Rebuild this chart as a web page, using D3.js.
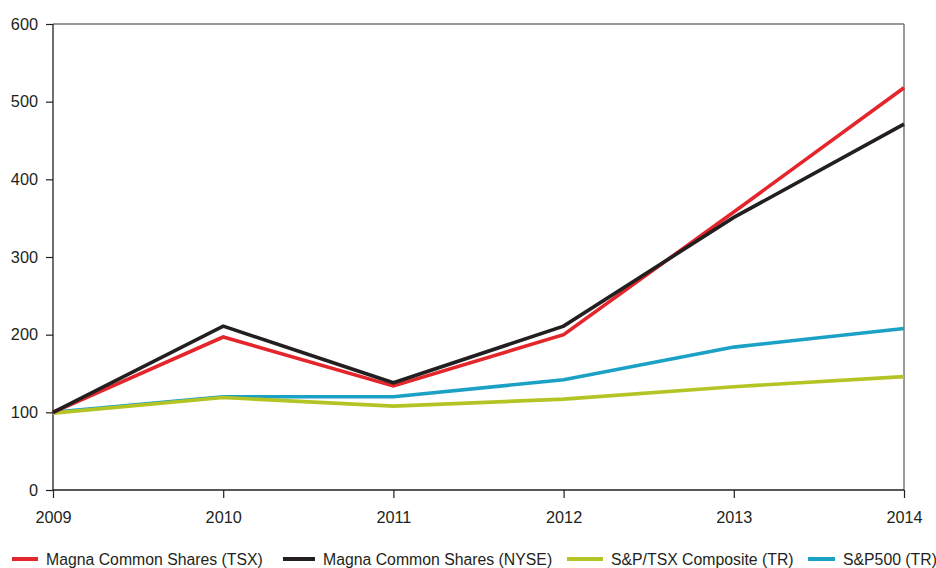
<!DOCTYPE html>
<html><head><meta charset="utf-8">
<script src="https://cdn.jsdelivr.net/npm/d3@7"></script>
<style>
body{margin:0;background:#fff;}
text{font-family:"Liberation Sans",Arial,Helvetica,sans-serif;fill:#231f20;}
</style></head>
<body><svg id="c" width="936" height="568"></svg>
<script>
const years = [2009, 2010, 2011, 2012, 2013, 2014];
const tsxShares = [100, 197, 134, 200, 358, 518];
const nyseShares = [100, 211, 138, 211, 351, 471];
const tsxComposite = [99, 119, 108, 117, 133, 146];
const sp500 = [100, 120, 120, 142, 184, 208];
const yTicks = [0, 100, 200, 300, 400, 500, 600];
const seriesNames = ["Magna Common Shares (TSX)", "Magna Common Shares (NYSE)", "S&P/TSX Composite (TR)", "S&P500 (TR)"];
const seriesColors = ["#e4252b", "#231f20", "#b5c425", "#1ba1c5"];

const series = [
  {name: seriesNames[0], color: seriesColors[0], values: tsxShares},
  {name: seriesNames[1], color: seriesColors[1], values: nyseShares},
  {name: seriesNames[2], color: seriesColors[2], values: tsxComposite},
  {name: seriesNames[3], color: seriesColors[3], values: sp500}
];
const drawOrder = [3, 2, 0, 1];

const svg = d3.select("#c");
const mLeft = 53, mRight = 904, mTop = 24, mBottom = 490;
const x = d3.scaleLinear().domain([2009, 2014]).range([mLeft, mRight]);
const y = d3.scaleLinear().domain([0, 600]).range([mBottom, mTop]);

// frame top & right
svg.append("line").attr("x1", mLeft).attr("x2", mRight).attr("y1", mTop).attr("y2", mTop)
  .attr("stroke", "#777").attr("stroke-width", 1.5);
svg.append("line").attr("x1", mRight).attr("x2", mRight).attr("y1", mTop).attr("y2", mBottom)
  .attr("stroke", "#777").attr("stroke-width", 1.5);

// axes
const yAxis = svg.append("g").attr("transform", `translate(${mLeft},0)`)
  .call(d3.axisLeft(y).tickValues(yTicks).tickSize(7).tickPadding(8).tickFormat(d3.format("d")));
const xAxis = svg.append("g").attr("transform", `translate(0,${mBottom})`)
  .call(d3.axisBottom(x).tickValues(years).tickSize(8).tickPadding(13).tickFormat(d3.format("d")));
[yAxis, xAxis].forEach(g => {
  g.select(".domain").attr("stroke", "#231f20").attr("stroke-width", 1.3);
  g.selectAll(".tick line").attr("stroke", "#231f20").attr("stroke-width", 1.2);
  g.selectAll("text").attr("font-size", 16.3).attr("font-family", "Liberation Sans, Arial, sans-serif").attr("fill", "#231f20");
});
yAxis.select(".domain").attr("d", `M0,${mBottom}V${mTop}`);
xAxis.select(".domain").attr("d", `M${mLeft},0H${mRight}`);

const line = d3.line().x((d, i) => x(years[i])).y(d => y(d));
drawOrder.forEach(k => {
  const s = series[k];
  svg.append("path").datum(s.values).attr("d", line)
    .attr("fill", "none").attr("stroke", s.color).attr("stroke-width", 3.6)
    .attr("stroke-linejoin", "miter");
});

// legend
const legendX = [12, 283, 567, 808];
const legendLen = [26, 32, 36, 27];
const legendGap = [8, 8, 8, 8];
const lg = svg.append("g").attr("transform", "translate(0,559)");
series.forEach((s, i) => {
  const g = lg.append("g").attr("transform", `translate(${legendX[i]},0)`);
  g.append("line").attr("x1", 0).attr("x2", legendLen[i]).attr("y1", 0).attr("y2", 0)
    .attr("stroke", s.color).attr("stroke-width", 4);
  g.append("text").attr("x", legendLen[i] + legendGap[i]).attr("y", 5.5).attr("font-size", 15.8).text(s.name);
});
</script></body></html>
